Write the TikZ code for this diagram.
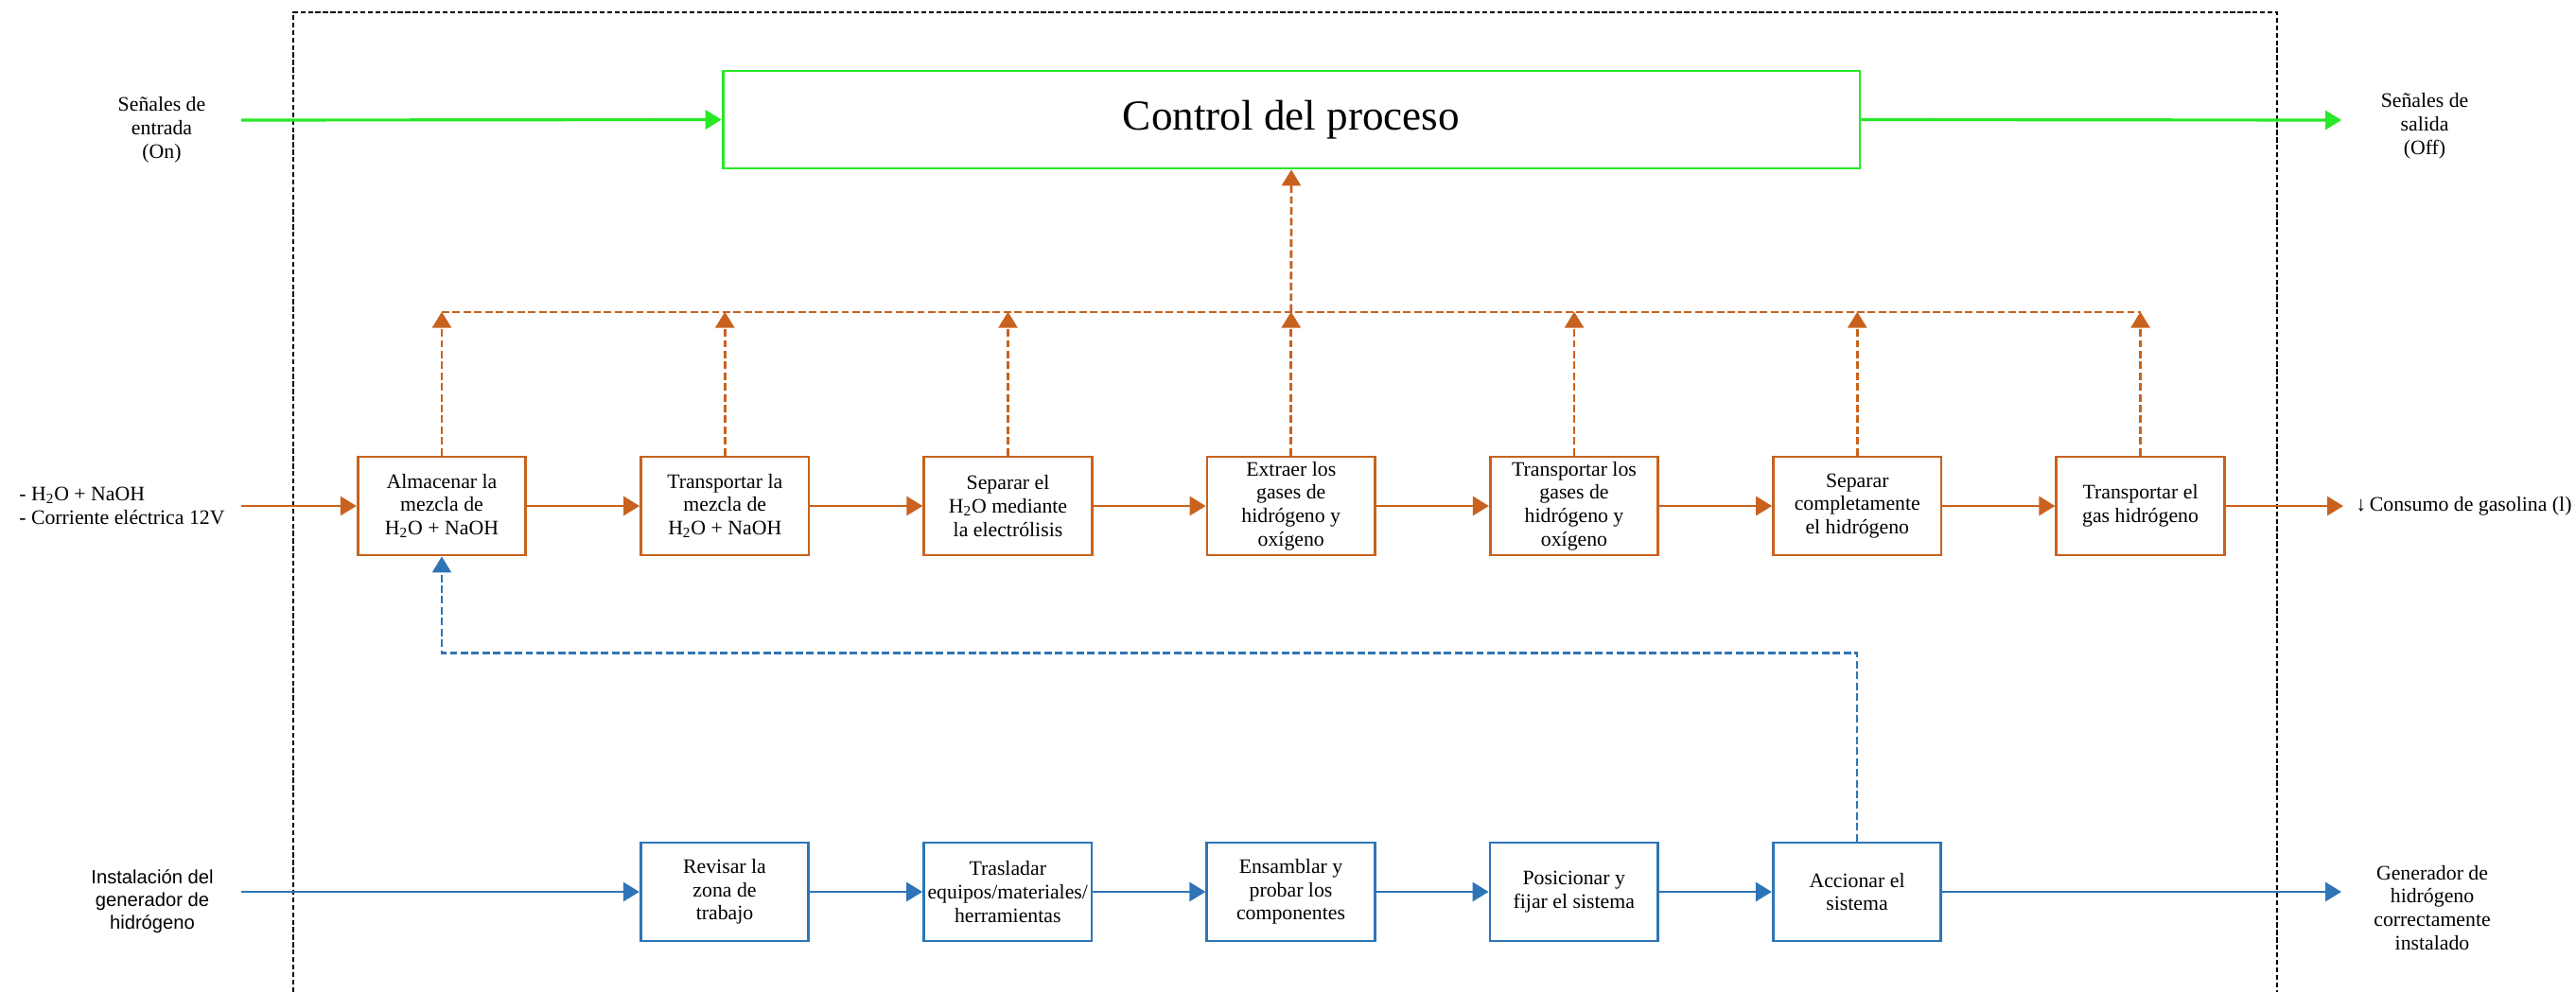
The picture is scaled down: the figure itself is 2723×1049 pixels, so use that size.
\documentclass[tikz,border=0pt]{standalone}
\usepackage{fontspec}
\setmainfont{Liberation Serif}
\newfontfamily\arialfont{Liberation Sans}
\usepackage{tikz}
\usetikzlibrary{positioning}
\usetikzlibrary{arrows.meta}

\definecolor{procorange}{RGB}{200,98,30}
\definecolor{instblue}{RGB}{46,117,182}
\definecolor{ctrlgreen}{RGB}{40,232,40}

\begin{document}
\begin{tikzpicture}[
    x=0.02cm, y=-0.02cm,
    % 过程框样式 (橙色)
    orange box style/.style={
        rectangle,               % 方形节点
        draw=procorange,         % 橙色边框
        line width=1.6pt,
        fill=white,
        minimum width=3.55cm,    % 框宽
        minimum height=2.08cm,   % 框高
        inner sep=1pt,
        align=center,
        font=\fontsize{12.4}{14}\selectfont
    },
    % 安装框样式 (蓝色)
    blue box style/.style={
        orange box style,
        draw=instblue
    },
    % 控制框样式 (绿色)
    control style/.style={
        rectangle,
        draw=ctrlgreen,
        line width=1.6pt,
        minimum width=24.04cm,
        minimum height=2.06cm,
        font=\fontsize{25.7}{30}\selectfont
    },
    % 外部文字
    label style/.style={
        align=center,
        inner sep=0pt,
        font=\fontsize{12.4}{14.2}\selectfont
    },
    % 连线样式
    tip/.style={-{Triangle[width=0.4cm,length=0.34cm]}},
    orange flow/.style={tip, draw=procorange, line width=1.6pt},
    orange dash/.style={draw=procorange, line width=1.3pt, dash pattern=on 4.5pt off 2pt},
    blue flow/.style={tip, draw=instblue, line width=1.6pt},
    green flow/.style={tip, draw=ctrlgreen, line width=1.8pt},
    % 系统边界
    frame style/.style={draw=black, line width=1pt, dash pattern=on 3pt off 1.5pt}
]
\useasboundingbox (0,0) rectangle (2723,1049);

% 系统边界 (下边不画)
\coordinate (fr bl) at (310,1049);
\coordinate (fr tr) at (2407,13);
\draw[frame style] (fr bl) |- (fr tr) -- (fr tr |- fr bl);

% 控制
\node[control style] (ctrl) at (1365,126.5) {Control del proceso};
\node[label style] (sig in) at (171,137) {Señales de\\entrada\\(On)};
\node[label style] (sig out) at (2563,133) {Señales de\\salida\\(Off)};
\coordinate (g start) at (255,127);
\coordinate (g end) at (2475,127);
\draw[green flow] (g start) -- (ctrl.west);
\draw[green flow] (ctrl.east) -- (g end);

% 主过程 (橙色)
\node[orange box style] (a1) at (467,535) {Almacenar la\\mezcla de\\H\textsubscript{2}O + NaOH};
\node[orange box style, right=2.38cm of a1] (a2) {Transportar la\\mezcla de\\H\textsubscript{2}O + NaOH};
\node[orange box style, right=2.38cm of a2] (a3) {Separar el\\H\textsubscript{2}O mediante\\la electrólisis};
\node[orange box style, right=2.38cm of a3] (a4) {Extraer los\\gases de\\hidrógeno y\\oxígeno};
\node[orange box style, right=2.38cm of a4] (a5) {Transportar los\\gases de\\hidrógeno y\\oxígeno};
\node[orange box style, right=2.38cm of a5] (a6) {Separar\\completamente\\el hidrógeno};
\node[orange box style, right=2.38cm of a6] (a7) {Transportar el\\gas hidrógeno};

\node[label style, anchor=west, align=left] (mix in) at (20,535)
    {- H\textsubscript{2}O + NaOH\\- Corriente eléctrica 12V};
\node[label style, anchor=west] (fuel out) at (2490,535) {↓\,Consumo de gasolina (l)};
\coordinate (o start) at (255,535);
\coordinate (o end) at (2477,535);

\draw[orange flow] (o start) -- (a1);
\draw[orange flow] (a1) -- (a2);
\draw[orange flow] (a2) -- (a3);
\draw[orange flow] (a3) -- (a4);
\draw[orange flow] (a4) -- (a5);
\draw[orange flow] (a5) -- (a6);
\draw[orange flow] (a6) -- (a7);
\draw[orange flow] (a7) -- (o end);

% 信号线 (虚线)
\draw[orange dash] ([yshift=3.04cm]a1.north) -- ([yshift=3.04cm]a7.north);
\draw[orange dash, orange flow] (a1.north) -- ++(0,3.04cm);
\draw[orange dash, orange flow] (a2.north) -- ++(0,3.04cm);
\draw[orange dash, orange flow] (a3.north) -- ++(0,3.04cm);
\draw[orange dash, orange flow] (a4.north) -- ++(0,3.04cm);
\draw[orange dash, orange flow] (a5.north) -- ++(0,3.04cm);
\draw[orange dash, orange flow] (a6.north) -- ++(0,3.04cm);
\draw[orange dash, orange flow] (a7.north) -- ++(0,3.04cm);
\draw[orange dash, orange flow] ([yshift=3.04cm]a4.north) -- (ctrl.south);

% 安装过程 (蓝色)
\node[blue box style] (b1) at (766,943) {Revisar la\\zona de\\trabajo};
\node[blue box style, right=2.38cm of b1] (b2) {Trasladar\\equipos/materiales/\\herramientas};
\node[blue box style, right=2.38cm of b2] (b3) {Ensamblar y\\probar los\\componentes};
\node[blue box style, right=2.38cm of b3] (b4) {Posicionar y\\fijar el sistema};
\node[blue box style, right=2.38cm of b4] (b5) {Accionar el\\sistema};

\node[label style, font=\arialfont\fontsize{11.5}{13.5}\selectfont] (inst in) at (161,953)
    {Instalación del\\generador de\\hidrógeno};
\node[label style] (inst out) at (2571,960) {Generador de\\hidrógeno\\correctamente\\instalado};
\coordinate (b start) at (255,943);
\coordinate (b end) at (2475,943);

\draw[blue flow] (b start) -- (b1);
\draw[blue flow] (b1) -- (b2);
\draw[blue flow] (b2) -- (b3);
\draw[blue flow] (b3) -- (b4);
\draw[blue flow] (b4) -- (b5);
\draw[blue flow] (b5) -- (b end);

% 反馈 (蓝色虚线)
\draw[blue flow, line width=1.3pt, dash pattern=on 4.5pt off 2pt]
    (b5.north) |- ([yshift=-2.04cm]a1.south) -- (a1.south);

\end{tikzpicture}
\end{document}
